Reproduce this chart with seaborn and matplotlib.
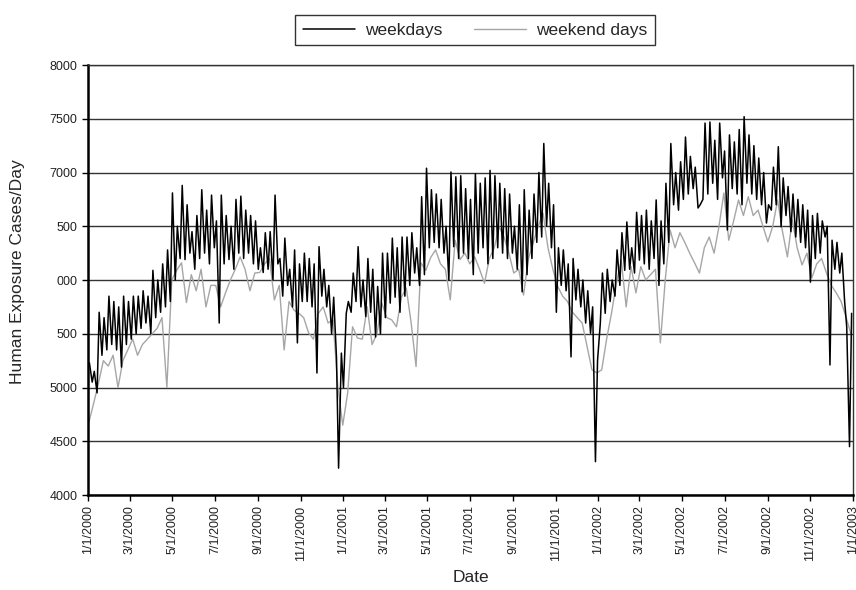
import pandas as pd
import numpy as np
import matplotlib
matplotlib.use("Agg")
import matplotlib.pyplot as plt
import seaborn as sns

# ---- data ----
# Weekday values: Mondays (weekly high) and Fridays (weekly low)
weekday_mon = [
    # 2000
    5230, 5150, 5700, 5650, 5850,
    5800, 5750, 5850, 5800,
    5850, 5850, 5900, 5850,
    6090, 6000, 6150, 6280,
    6810, 6500, 6880, 6700, 6450,
    6600, 6840, 6650, 6790,
    6550, 6790, 6600, 6500, 6750,
    6780, 6650, 6600, 6550,
    6300, 6440, 6450, 6790,
    6200, 6390, 6100, 6280, 6150,
    6250, 6200, 6150, 6310,
    6100, 5950, 5840, 4250,
    # 2001
    5000, 5800, 6065, 6310, 6000,
    6200, 6100, 5940, 6250,
    6250, 6390, 6300, 6400,
    6400, 6440, 6300, 6775, 7040,
    6840, 6800, 6750, 6500,
    7005, 6960, 6970, 6850,
    6750, 6990, 6900, 6950, 7020,
    6970, 6900, 6850, 6800,
    6500, 6700, 6840, 6650,
    6800, 7000, 7270, 6900, 6700,
    6300, 6280, 6150, 6200,
    6100, 6000, 5900, 5750, 5250,
    # 2002
    6065, 6100, 6000, 6280,
    6440, 6540, 6300, 6630,
    6600, 6650, 6550, 6745,
    6550, 6900, 7270, 7000, 7100,
    7330, 7150, 7050, 6700,
    7460, 7470, 7300, 7460,
    7200, 7350, 7285, 7400, 7520,
    7350, 7250, 7135, 7000,
    6700, 7050, 7240, 6950, 6870,
    6800, 6750, 6700, 6650,
    6600, 6620, 6550, 6500,
    6370, 6350, 6250, 5565, 5690,
]
weekday_fri = [
    # 2000
    5050, 4950, 5300, 5350, 5400,
    5350, 5190, 5400, 5450,
    5500, 5550, 5600, 5500,
    5650, 5700, 5750, 5800,
    6000, 6200, 6190, 6250, 6100,
    6200, 6250, 6150, 6300,
    5600, 6150, 6190, 6100, 6250,
    6200, 6250, 6150, 6100,
    6070, 6100, 6000, 6150,
    5850, 5950, 5750, 5415, 5800,
    5800, 5750, 5135, 5850,
    5750, 5500, 5280, 5320,
    # 2001
    5690, 5700, 5800, 5750, 5660,
    5700, 5470, 5500, 5650,
    5785, 5840, 5700, 5850,
    5950, 6065, 5950, 6050, 6300,
    6350, 6300, 6250, 6000,
    6310, 6200, 6250, 6200,
    6050, 6250, 6300, 6150, 6200,
    6300, 6250, 6200, 6250,
    6100, 5890, 6050, 6200,
    6350, 6400, 6500, 6300, 5700,
    5950, 5900, 5285, 5815,
    5750, 5600, 5505, 4310, 5600,
    # 2002
    5690, 5800, 5850, 5950,
    6090, 6100, 6065, 6185,
    6150, 6100, 6200, 5950,
    6150, 6350, 6700, 6650, 6750,
    6800, 6850, 6670, 6750,
    6800, 6900, 6750, 6950,
    6465, 6850, 6800, 6700, 6900,
    6800, 6750, 6700, 6530,
    6650, 6700, 6495, 6600, 6450,
    6400, 6350, 6300, 5980,
    6200, 6250, 6400, 5210,
    6100, 6065, 5800, 4450,
]
# Weekend values, one per weekend (Sundays from 2 Jan 2000)
weekend = [
    # 2000
    4670, 4850, 5040, 5250, 5200,
    5300, 5000, 5250, 5350,
    5450, 5300, 5400, 5450,
    5500, 5550, 5650, 5000, 6000,
    6090, 6160, 5790, 6050,
    5900, 6100, 5750, 5950,
    5950, 5750, 5880, 6000, 6100,
    6215, 6100, 5900, 6065,
    6070, 6150, 6200, 5815,
    5950, 5350, 5800, 5720, 5690,
    5650, 5510, 5450, 5690,
    5750, 5600, 5630, 5000, 4650,
    # 2001
    4950, 5565, 5460, 5450,
    5750, 5400, 5500, 5785,
    5650, 5630, 5565, 5840,
    5925, 5600, 5195, 6160, 6090,
    6210, 6280, 6150, 6100,
    5815, 6370, 6190, 6250,
    6150, 6215, 6100, 5970, 6200,
    6300, 6495, 6400, 6250,
    6065, 6100, 5860, 6200, 6350,
    6500, 6620, 6300, 6100,
    5940, 5850, 5800, 5700,
    5650, 5600, 5380, 5165, 5135,
    # 2002
    5165, 5450, 5690, 5970,
    6185, 5750, 6125, 5880,
    6125, 6000, 6050, 6100, 5415,
    6000, 6465, 6300, 6440,
    6350, 6250, 6160, 6065,
    6300, 6400, 6250, 6500, 6810,
    6370, 6550, 6745, 6600,
    6775, 6600, 6650, 6500,
    6355, 6500, 6745, 6450, 6215,
    6560, 6300, 6140, 6250,
    6020, 6150, 6200, 6065,
    5950, 5880, 5800, 5655, 5500,
]
y_ticks = [4000, 4500, 5000, 5500, 6000, 6500, 7000, 7500, 8000]
y_tick_labels = ["4000", "4500", "5000", "500", "000", "500", "7000", "7500", "8000"]
series_names = ["weekdays", "weekend days"]

# ---- build frames ----
mon_dates = pd.date_range("2000-01-03", periods=len(weekday_mon), freq="7D")
fri_dates = pd.date_range("2000-01-07", periods=len(weekday_fri), freq="7D")
wd = pd.DataFrame({
    "date": list(mon_dates) + list(fri_dates),
    "cases": weekday_mon + weekday_fri,
}).sort_values("date").reset_index(drop=True)
we = pd.DataFrame({
    "date": pd.date_range("2000-01-02", periods=len(weekend), freq="7D"),
    "cases": weekend,
})

sns.set_style("ticks")
plt.rcParams["font.family"] = ["Liberation Sans", "DejaVu Sans"]

fig = plt.figure(figsize=(8.56, 5.90), dpi=100)
ax = fig.add_axes([0.1028, 0.161, 0.8937, 0.7288])

sns.lineplot(data=wd, x="date", y="cases", color="black", lw=1.1, ax=ax,
             label=series_names[0], zorder=3)
sns.lineplot(data=we, x="date", y="cases", color="#a6a6a6", lw=1.0, ax=ax,
             label=series_names[1], zorder=2)

ax.set_xlim(pd.Timestamp("2000-01-01"), pd.Timestamp("2003-01-01"))
ax.set_ylim(4000, 8000)
ax.set_yticks(y_ticks)
ax.set_yticklabels(y_tick_labels, fontsize=9, color="#222222")
xt = pd.date_range("2000-01-01", "2003-01-01", freq="2MS")
ax.set_xticks(xt)
ax.set_xticklabels([f"{d.month}/{d.day}/{d.year}" for d in xt], rotation=90,
                   fontsize=9, color="#222222")
ax.tick_params(axis="both", direction="out", length=4, width=1, color="black")
ax.yaxis.grid(True, color="#333333", lw=1.0, zorder=1)
ax.xaxis.grid(False)
for s in ["left", "bottom"]:
    ax.spines[s].set_linewidth(1.8)
    ax.spines[s].set_color("black")
for s in ["top", "right"]:
    ax.spines[s].set_visible(True)
    ax.spines[s].set_linewidth(1.0)
    ax.spines[s].set_color("#333333")

ax.set_ylabel("Human Exposure Cases/Day", fontsize=12.5)
ax.set_xlabel("Date", fontsize=12.5)
ax.yaxis.set_label_coords(-0.082, 0.52)
ax.xaxis.set_label_coords(0.5, -0.175)

ax.legend_.remove()
leg = fig.legend(*ax.get_legend_handles_labels(), loc="center",
                 bbox_to_anchor=(0.555, 0.949), ncol=2, fontsize=12.5,
                 frameon=True, fancybox=False, edgecolor="black",
                 handlelength=3.0, columnspacing=1.8, borderpad=0.45,
                 handletextpad=0.6)
leg.get_frame().set_linewidth(1.0)

fig.savefig("out.png", dpi=100)
